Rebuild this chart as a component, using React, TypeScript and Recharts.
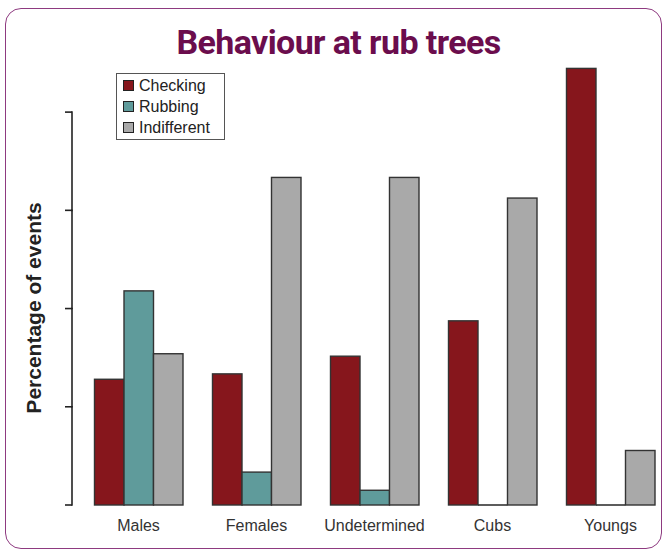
import React from "react";
import { BarChart, Bar, XAxis, YAxis, Legend, Label } from "recharts";

// groups along the x axis
const groups = ["Males", "Females", "Undetermined", "Cubs", "Youngs"];

// percentage of events per behaviour
const checking = [25.6, 26.7, 30.3, 37.5, 88.9];
const rubbing = [43.6, 6.7, 3.0, 0, 0];
const indifferent = [30.8, 66.7, 66.7, 62.5, 11.1];

const yTicks = [0, 20, 40, 60, 80];

const seriesNames = ["Checking", "Rubbing", "Indifferent"];
const seriesColors = ["#86161c", "#5f9b9b", "#a9a9a9"];

const data = groups.map((g, i) => ({
  group: g,
  Checking: checking[i],
  Rubbing: rubbing[i],
  Indifferent: indifferent[i],
}));

const Y_MAX = 90;
const PLOT_TOP = 63;
const PLOT_BOTTOM = 505;
const AXIS_X = 72;
const X_AXIS_H = 30;
const pxPerUnit = (PLOT_BOTTOM - PLOT_TOP) / Y_MAX;
const tickStep = yTicks[1] - yTicks[0];

// tick plus the piece of axis line down to the previous tick
function YTick(props: any) {
  const { y, payload } = props;
  return (
    <g>
      <line x1={AXIS_X - 7} x2={AXIS_X} y1={y} y2={y} stroke="#222" strokeWidth={1.6} />
      {payload.value > 0 && (
        <line
          x1={AXIS_X}
          x2={AXIS_X}
          y1={y - 0.8}
          y2={y + tickStep * pxPerUnit + 0.8}
          stroke="#222"
          strokeWidth={1.6}
        />
      )}
    </g>
  );
}

function BarShape(props: any) {
  const { x, y, width, height, fill } = props;
  if (!height || height <= 0.5) {
    return <line x1={x} x2={x + width} y1={y} y2={y} stroke="#333" strokeWidth={1.6} />;
  }
  return (
    <rect x={x} y={y} width={width} height={height} fill={fill} stroke="#333" strokeWidth={1.4} />
  );
}

function LegendBox() {
  return (
    <div
      style={{
        border: "1px solid #555",
        width: 109,
        height: 67,
        boxSizing: "border-box",
        padding: "1px 0 0 6px",
        fontFamily: "'Liberation Sans', Arial, sans-serif",
        fontSize: 16,
        color: "#222",
        background: "#fff",
      }}
    >
      {seriesNames.map((n, i) => (
        <div key={n} style={{ display: "flex", alignItems: "center", height: 21 }}>
          <span
            style={{
              display: "inline-block",
              width: 11,
              height: 11,
              background: seriesColors[i],
              border: "1px solid #222",
              marginRight: 5,
              boxSizing: "border-box",
            }}
          />
          <span style={{ lineHeight: "21px" }}>{n}</span>
        </div>
      ))}
    </div>
  );
}

export default function App() {
  return (
    <div
      style={{
        position: "absolute",
        left: 0,
        top: 0,
        width: 663,
        height: 550,
        overflow: "hidden",
        background: "#fff",
      }}
    >
      <div
        style={{
          position: "absolute",
          left: 5,
          top: 8,
          width: 657,
          height: 541,
          border: "1.6px solid #8e3a80",
          borderRadius: 16,
          boxSizing: "border-box",
        }}
      />
      <div
        style={{
          position: "absolute",
          left: 0,
          top: 25,
          width: 677,
          textAlign: "center",
          fontFamily: "Roboto, sans-serif",
          fontWeight: 700,
          fontSize: 34,
          lineHeight: "34px",
          letterSpacing: -0.6,
          color: "#6b0d4d",
        }}
      >
        Behaviour at rub trees
      </div>
      <div style={{ position: "absolute", left: 0, top: 0 }}>
        <BarChart
          width={680}
          height={550}
          data={data}
          margin={{ top: PLOT_TOP, right: 10.5, bottom: 550 - PLOT_BOTTOM - X_AXIS_H, left: 0 }}
          barGap={0}
        >
          <XAxis
            dataKey="group"
            height={X_AXIS_H}
            axisLine={false}
            tickLine={false}
            padding={{ left: 7.5, right: 0 }}
            tickMargin={9}
            tick={{ fontSize: 16, fill: "#333", fontFamily: "'Liberation Sans', Arial, sans-serif" }}
            interval={0}
          />
          <YAxis
            width={AXIS_X}
            domain={[0, Y_MAX]}
            ticks={yTicks}
            axisLine={false}
            tickLine={false}
            tick={<YTick />}
          >
            <Label
              content={() => (
                <text
                  x={33}
                  y={308}
                  transform="rotate(-90 33 308)"
                  textAnchor="middle"
                  dominantBaseline="central"
                  fontFamily="'Liberation Sans', Arial, sans-serif"
                  fontWeight={700}
                  fontSize={21}
                  fill="#222"
                >
                  Percentage of events
                </text>
              )}
            />
          </YAxis>
          <Legend
            layout="vertical"
            align="center"
            verticalAlign="middle"
            content={<LegendBox />}
            wrapperStyle={{ position: "absolute", left: 116, top: 73, width: 109 }}
          />
          {seriesNames.map((n, i) => (
            <Bar
              key={n}
              dataKey={n}
              fill={seriesColors[i]}
              barSize={29.5}
              shape={<BarShape />}
              isAnimationActive={false}
            />
          ))}
        </BarChart>
      </div>
    </div>
  );
}
